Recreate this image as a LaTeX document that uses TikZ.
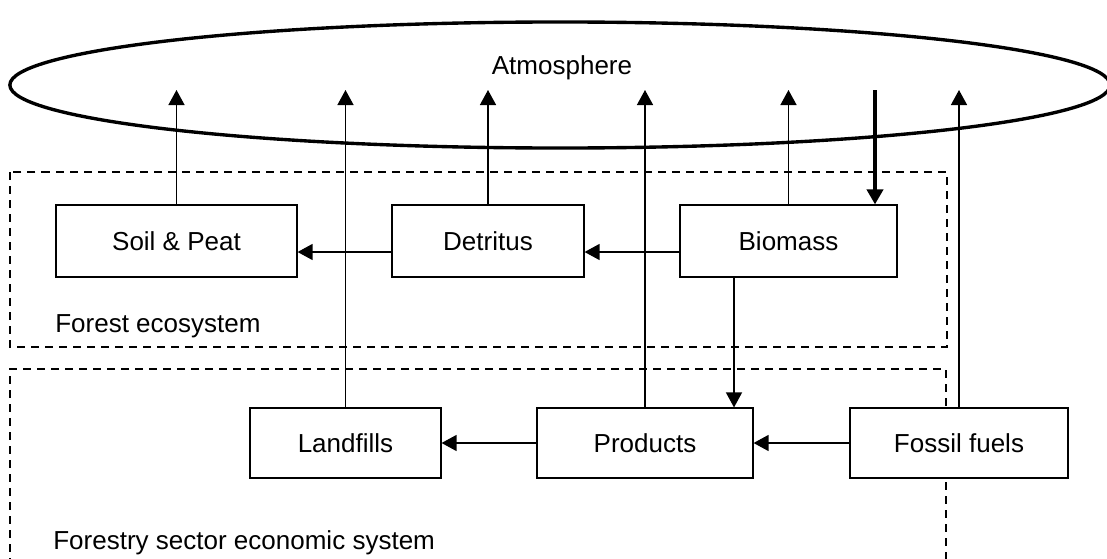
\documentclass[tikz,border=0pt]{standalone}
\usepackage{fontspec}
\setmainfont{Liberation Sans}
\usetikzlibrary{arrows.meta}

\begin{document}
\begin{tikzpicture}[x=0.025cm,y=-0.025cm,font=\fontsize{18.5}{22}\selectfont,
  box/.style={draw,line width=0.8pt,fill=white,inner sep=0pt,minimum height=1.8cm},
  zone/.style={line width=0.9pt,dash pattern=on 0.2cm off 0.15cm},
  flow/.style={line width=1pt,-{Triangle[length=0.375cm,width=0.4cm]}},
  zonetext/.style={anchor=base west,inner sep=0pt}]
\useasboundingbox (0,0) rectangle (1107,559);
\draw[line width=2.4pt] (560,85) ellipse [x radius=13.75cm,y radius=1.575cm];
\node[inner sep=0pt,anchor=base] (atm) at (562,74) {Atmosphere};
\draw[zone] (10,172) rectangle (947,347);
\draw[zone] (10,580) -- (10,369) -- (946,369) -- (946,580);
\node[box,minimum width=6.025cm] (soil) at (176.5,241) {Soil \& Peat};
\node[box,minimum width=4.8cm] (det) at (488,241) {Detritus};
\node[box,minimum width=5.425cm] (bio) at (788.5,241) {Biomass};
\node[box,minimum width=4.775cm,minimum height=1.75cm] (land) at (345.5,443) {Landfills};
\node[box,minimum width=5.4cm,minimum height=1.75cm] (prod) at (645,443) {Products};
\node[box,minimum width=5.45cm,minimum height=1.75cm] (fuel) at (959,443) {Fossil fuels};
\node[zonetext] (forest) at (55,332) {Forest ecosystem};
\node[zonetext] (econ) at (53,549) {Forestry sector economic system};
\coordinate (sky) at (0,90);
\coordinate (sink) at (875,90);
\coordinate (cut) at (734,0);
\draw[flow] (soil.north) -- (soil.north |- sky);
\draw[flow] (det.north) -- (det.north |- sky);
\draw[flow] (bio.north) -- (bio.north |- sky);
\draw[flow] (land.north) -- (land.north |- sky);
\draw[flow] (prod.north) -- (prod.north |- sky);
\draw[flow] (fuel.north) -- (fuel.north |- sky);
\draw[flow,line width=3pt] (sink) -- (bio.north -| sink);
\draw[flow] ([yshift=-0.275cm]bio.west) -- ([yshift=-0.275cm]det.east);
\draw[flow] ([yshift=-0.275cm]det.west) -- ([yshift=-0.275cm]soil.east);
\draw[flow] (bio.south -| cut) -- (prod.north -| cut);
\draw[flow] (prod.west) -- (land.east);
\draw[flow] (fuel.west) -- (prod.east);
\end{tikzpicture}
\end{document}
